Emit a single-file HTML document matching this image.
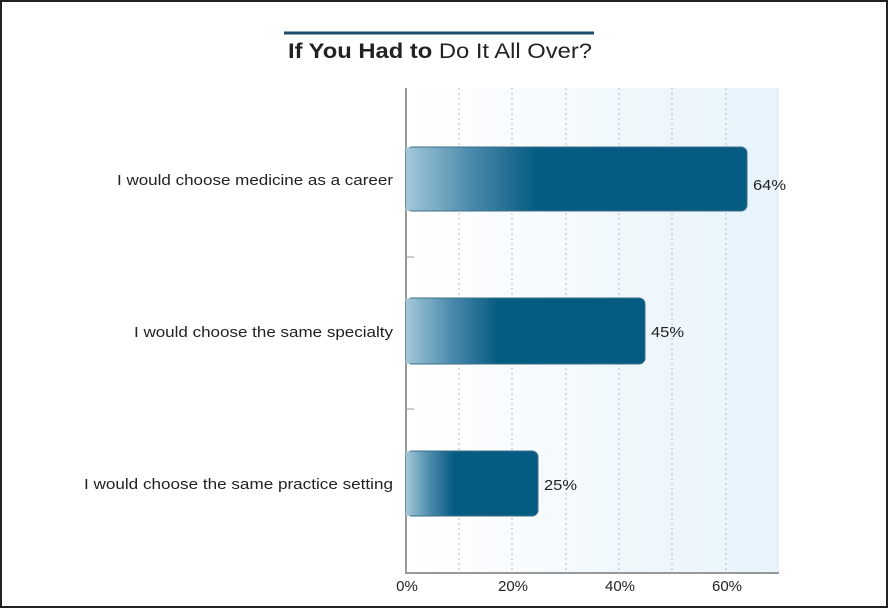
<!DOCTYPE html>
<html><head><style>
body{margin:0;background:#fff;}
svg{display:block;font-family:"Liberation Sans",sans-serif;}
</style></head><body>
<svg width="889" height="609" viewBox="0 0 889 609">
<defs>
<linearGradient id="pl" x1="0" x2="1" y1="0" y2="0">
<stop offset="0" stop-color="#ffffff"/><stop offset="1" stop-color="#e6f3fb"/>
</linearGradient>
<linearGradient id="b" x1="0" x2="1"><stop offset="0" stop-color="#a3c8d9"/><stop offset="0.5" stop-color="#4a8aab"/><stop offset="1" stop-color="#065b82"/></linearGradient>
</defs>
<rect x="1" y="1" width="886" height="606" fill="#fff" stroke="#222" stroke-width="2"/>
<line x1="284" y1="33" x2="594" y2="33" stroke="#1e4d68" stroke-width="3"/>
<text x="288" y="58" font-size="21" fill="#222" textLength="304" lengthAdjust="spacingAndGlyphs"><tspan font-weight="bold">If You Had to</tspan> Do It All Over?</text>
<rect x="406" y="88" width="373" height="485" fill="url(#pl)"/>
<g stroke="#bbb" stroke-width="1" stroke-dasharray="2,3">
<line x1="459" y1="88" x2="459" y2="573"/><line x1="512" y1="88" x2="512" y2="573"/>
<line x1="566" y1="88" x2="566" y2="573"/><line x1="619" y1="88" x2="619" y2="573"/>
<line x1="672" y1="88" x2="672" y2="573"/><line x1="726" y1="88" x2="726" y2="573"/>
</g>
<line x1="406" y1="88" x2="406" y2="574" stroke="#999" stroke-width="2"/>
<line x1="405" y1="573" x2="779" y2="573" stroke="#999" stroke-width="2"/>
<line x1="406" y1="257" x2="414" y2="257" stroke="#999"/>
<line x1="406" y1="409" x2="414" y2="409" stroke="#999"/>
<g>
<rect x="406" y="147" width="341" height="64" rx="6" fill="#065b82" stroke="#3d6f88"/>
<rect x="406" y="147.5" width="130" height="63" fill="url(#b)"/>
<rect x="406" y="298" width="239" height="66" rx="6" fill="#065b82" stroke="#3d6f88"/>
<rect x="406" y="298.5" width="92" height="65" fill="url(#b)"/>
<rect x="406" y="451" width="132" height="65" rx="6" fill="#065b82" stroke="#3d6f88"/>
<rect x="406" y="451.5" width="48" height="64" fill="url(#b)"/>
</g>
<g font-size="15" fill="#222">
<text x="753" y="190" textLength="33" lengthAdjust="spacingAndGlyphs">64%</text>
<text x="651" y="337" textLength="33" lengthAdjust="spacingAndGlyphs">45%</text>
<text x="544" y="490" textLength="33" lengthAdjust="spacingAndGlyphs">25%</text>
<text x="117" y="185" textLength="276" lengthAdjust="spacingAndGlyphs">I would choose medicine as a career</text>
<text x="134" y="337" textLength="259" lengthAdjust="spacingAndGlyphs">I would choose the same specialty</text>
<text x="84" y="489" textLength="309" lengthAdjust="spacingAndGlyphs">I would choose the same practice setting</text>
<g text-anchor="middle">
<text x="407" y="591">0%</text><text x="513" y="591">20%</text>
<text x="620" y="591">40%</text><text x="727" y="591">60%</text>
</g>
</g>
</svg>
</body></html>
